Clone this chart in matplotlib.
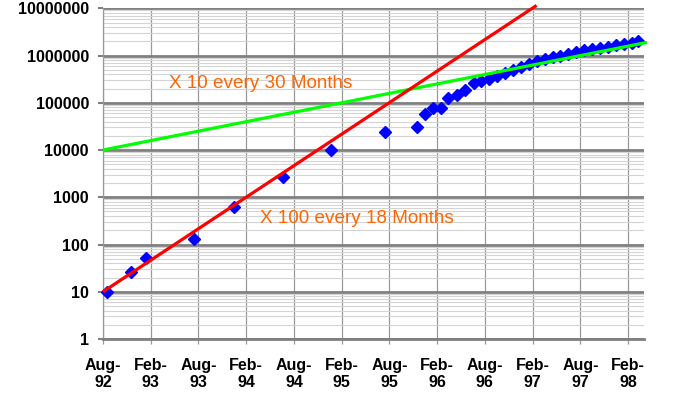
import matplotlib
matplotlib.use("Agg")
import matplotlib.pyplot as plt
from matplotlib.ticker import LogLocator, NullFormatter

plt.rcParams['font.family'] = ['Liberation Sans', 'DejaVu Sans']

# Data: months since Aug-92 and counts
months = [0.5, 3.5, 5.4, 11.4, 16.5, 22.6, 28.6, 35.5, 39.5, 40.5, 41.5, 42.5,
          43.4, 44.5, 45.5, 46.6, 47.5, 48.5, 49.5, 50.5, 51.5, 52.5, 53.5,
          54.5, 55.5, 56.5, 57.5, 58.5, 59.5, 60.5, 61.5, 62.5, 63.5, 64.5,
          65.5, 66.5, 67.3]
values = [10, 26, 51, 130, 623, 2738, 10022, 23500, 31000, 57000, 76000, 76000,
          129000, 144000, 184000, 256000, 285000, 325000, 370000, 430000, 500000,
          580000, 670000, 760000, 840000, 920000, 1000000, 1100000, 1200000,
          1290000, 1380000, 1460000, 1550000, 1640000, 1730000, 1830000, 2050000]

# Trend lines (endpoints)
red_months = [0, 54.5]
red_values = [10, 1.15e7]
green_months = [0, 68.4]
green_values = [1e4, 1.9e6]

tick_months = [0, 6, 12, 18, 24, 30, 36, 42, 48, 54, 60, 66]
tick_labels = ["Aug-\n92", "Feb-\n93", "Aug-\n93", "Feb-\n94", "Aug-\n94", "Feb-\n95",
               "Aug-\n95", "Feb-\n96", "Aug-\n96", "Feb-\n97", "Aug-\n97", "Feb-\n98"]
y_ticks = [1, 10, 100, 1000, 10000, 100000, 1000000, 10000000]
y_labels = ["1", "10", "100", "1000", "10000", "100000", "1000000", "10000000"]

fig = plt.figure(figsize=(6.85, 3.94), dpi=100)
ax = fig.add_axes([103/685, 55/394, 541/685, 330.7/394])

ax.set_yscale('log')
ax.set_ylim(1, 1e7)
ax.set_xlim(0, 68)

ax.yaxis.set_minor_locator(LogLocator(base=10, subs=range(2, 10)))
ax.yaxis.set_minor_formatter(NullFormatter())
ax.grid(True, which='minor', axis='y', color='#d4d4d4', lw=0.8, zorder=0)
ax.grid(True, which='major', axis='y', color='#808080', lw=2.0, zorder=0.5)
ax.set_xticks(tick_months)
ax.set_xticklabels(tick_labels)
ax.grid(True, which='major', axis='x', color='#999999', lw=0.9, zorder=0.3)
ax.set_yticks(y_ticks)
ax.set_yticklabels(y_labels)

for s in ['top', 'right']:
    ax.spines[s].set_visible(False)
ax.spines['left'].set_color('#999999')
ax.spines['left'].set_linewidth(0.9)
ax.spines['bottom'].set_color('#808080')
ax.spines['bottom'].set_linewidth(2.0)

ax.tick_params(axis='y', which='major', length=3.6, width=1.5, color='#808080', pad=6.5,
               labelsize=11.5)
ax.tick_params(axis='y', which='minor', length=0)
ax.tick_params(axis='x', which='major', length=3.6, width=0.9, color='#999999', pad=10,
               labelsize=11.5)
for lab in ax.get_xticklabels() + ax.get_yticklabels():
    lab.set_fontweight('bold')
    lab.set_color('black')

ax.plot(months, values, linestyle='none', marker='D', ms=6.2, color='#0000ff',
        markeredgecolor='#0000ff', zorder=3, clip_on=False)
ax.plot(green_months, green_values, color='#00ff00', lw=2.3, zorder=4, clip_on=False,
        solid_capstyle='butt')
ax.plot(red_months, red_values, color='#ff0000', lw=2.3, zorder=4, clip_on=False,
        solid_capstyle='butt')

ax.text(8.3, 10**((339-83)/47.3), "X 10 every 30 Months", color='#ff6600', fontsize=13.6,
        va='center', ha='left', zorder=5)
ax.text(19.7, 10**((339-218)/47.3), "X 100 every 18 Months", color='#ff6600', fontsize=13.6,
        va='center', ha='left', zorder=5)

fig.savefig("out.png", dpi=100)
